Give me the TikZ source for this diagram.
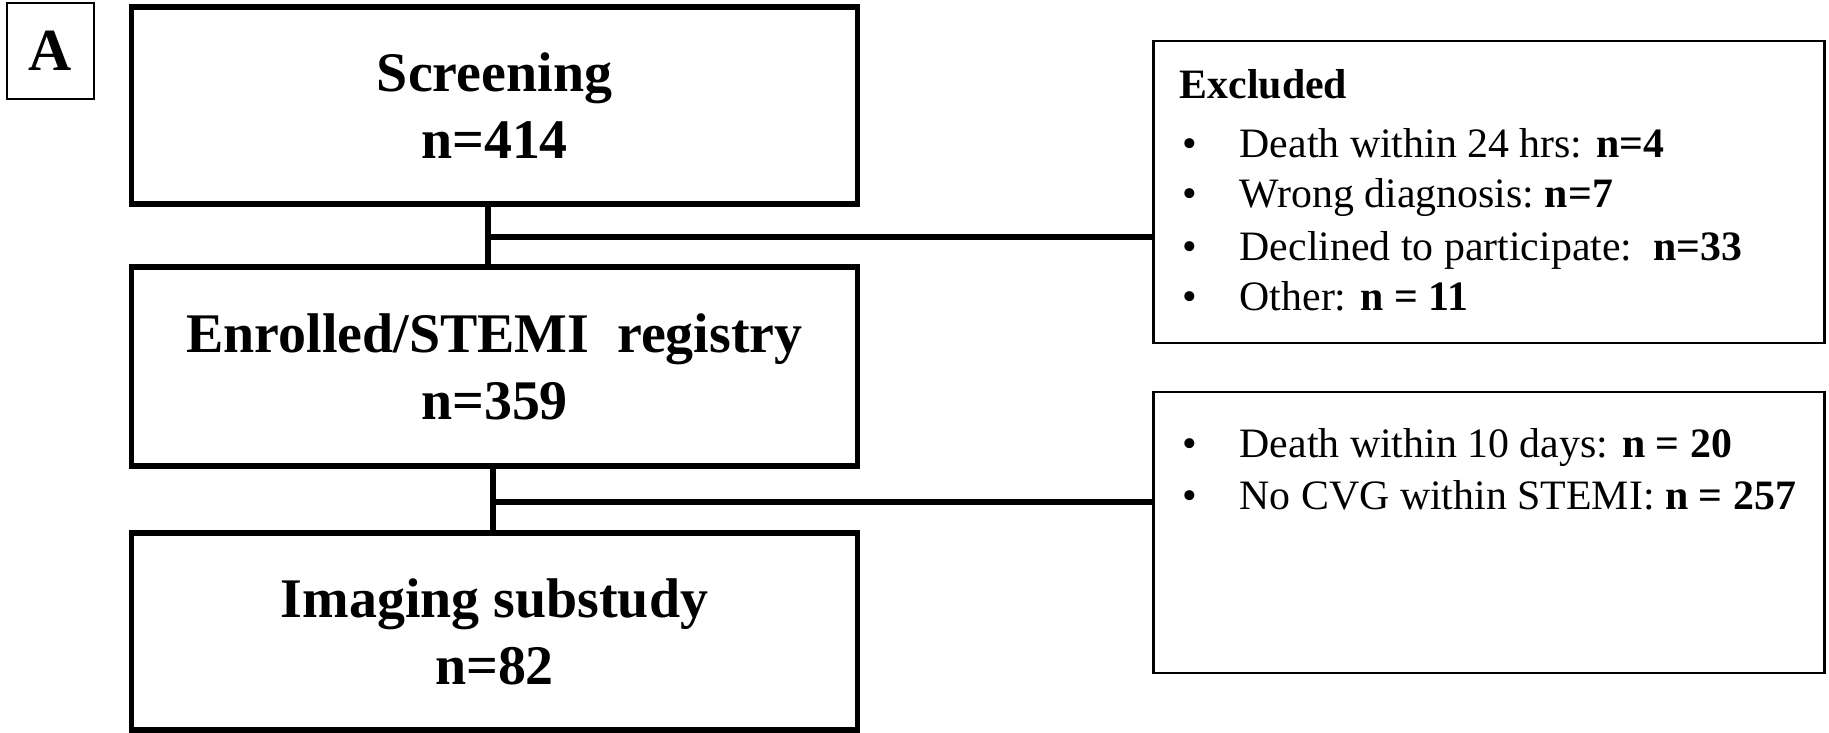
\documentclass[tikz,border=0pt]{standalone}
\usepackage{fontspec}
\setmainfont{Liberation Serif}
\begin{document}
\begin{tikzpicture}[x=0.01cm,y=-0.01cm,
  mainbox/.style={draw, line width=1.5pt, align=center, inner sep=0pt,
    minimum width=7.25cm, font=\fontsize{15.9}{19.1}\selectfont\bfseries},
  sidebox/.style={draw, line width=0.8pt, inner sep=0pt, minimum width=6.7cm},
  link/.style={line width=1.7pt},
  itemtxt/.style={anchor=base west, inner sep=0pt, font=\fontsize{11.9}{14}\selectfont},
  labelbox/.style={draw, line width=0.8pt, inner sep=0pt, minimum width=0.87cm, minimum height=0.96cm,
    font=\fontsize{17}{20}\selectfont\bfseries}
]
\useasboundingbox (0,0) rectangle (1829,733);
% panel label
\node[labelbox] (lab) at (50.5,51) {A};
% main boxes
\node[mainbox, minimum height=1.97cm] (scr) at (494.5,105.5) {Screening\\n=414};
\node[mainbox, minimum height=1.99cm] (enr) at (494.5,366.5) {Enrolled/STEMI\ \ registry\\n=359};
\node[mainbox, minimum height=1.97cm] (img) at (494.5,631.5) {Imaging substudy\\n=82};
% side boxes
\node[sidebox, minimum height=3.02cm] (ex1) at (1489,192) {};
\node[sidebox, minimum height=2.81cm] (ex2) at (1489,532.5) {};
% connectors
\coordinate (j1) at (488,237);
\coordinate (j2) at (493,502);
\draw[link] (scr.south -| j1) -- (enr.north -| j1);
\draw[link] (j1) -- (ex1.west |- j1);
\draw[link] (enr.south -| j2) -- (img.north -| j2);
\draw[link] (j2) -- (ex2.west |- j2);
% texts of first side box
\node[itemtxt, font=\fontsize{11.9}{14}\selectfont\bfseries] (exh) at (1179,98) {Excluded};
\node[itemtxt] (b1) at (1182,157) {\textbullet};
\node[itemtxt] (t1) at (1239,157) {Death within 24 hrs: \textbf{n=4}};
\node[itemtxt] (b2) at (1182,207) {\textbullet};
\node[itemtxt] (t2) at (1239,207) {Wrong diagnosis:\ \textbf{n=7}};
\node[itemtxt] (b3) at (1182,260) {\textbullet};
\node[itemtxt] (t3) at (1239,260) {Declined to participate:\ \ \textbf{n=33}};
\node[itemtxt] (b4) at (1182,310) {\textbullet};
\node[itemtxt] (t4) at (1239,310) {Other: \textbf{n = 11}};
% texts of second side box
\node[itemtxt] (b5) at (1182,457) {\textbullet};
\node[itemtxt] (t5) at (1239,457) {Death within 10 days: \textbf{n = 20}};
\node[itemtxt] (b6) at (1182,509) {\textbullet};
\node[itemtxt] (t6) at (1239,509) {No CVG within STEMI: \textbf{n = 257}};
\end{tikzpicture}
\end{document}
